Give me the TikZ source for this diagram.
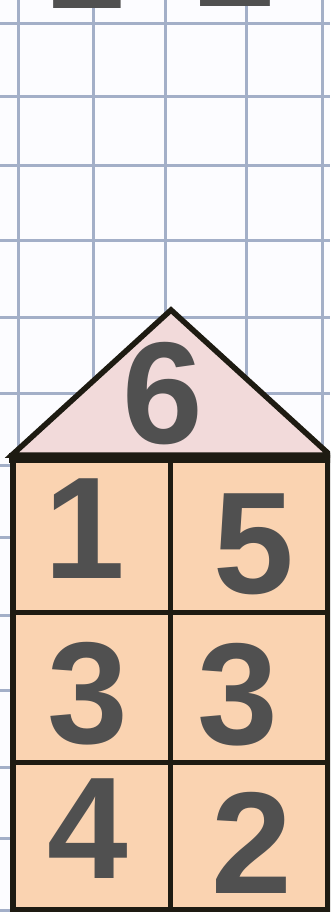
\documentclass[tikz,border=0pt]{standalone}
\usepackage{fontspec}
\setmainfont{Liberation Sans}
\usepackage{tikz}
\definecolor{gridblue}{HTML}{A3AFC8}
\definecolor{roofpink}{HTML}{F2DADA}
\definecolor{wallpeach}{HTML}{FAD3B1}
\definecolor{inkdark}{HTML}{1E1B12}
\definecolor{digitgray}{HTML}{505050}

\begin{document}
\begin{tikzpicture}[x=1pt, y=-1pt,
            digit/.style={anchor=base, inner sep=0pt, text=digitgray, font=\fontsize{145}{145}\selectfont\bfseries},
            gridline/.style={gridblue, line width=3pt}]
            \useasboundingbox (0,0) rectangle (330,912);
            \begin{scope}
            \clip (0,0) rectangle (330,912);
            \fill[white!99!blue] (0,0) rectangle (330,912);
            % squared paper
            \foreach \x in {18,93,165,246,322}
                \draw[gridline] (\x,0) -- (\x,912);
            \foreach \y in {24,97,166,240,317,393,465,537,615,690,767,838,910}
                \draw[gridline] (0,\y) -- (330,\y);
            % digits from the row above, cut off
            \node[digit] (top1) at (85,9) {1};
            \node[digit] (top2) at (236,7) {2};
            % roof
            \draw[inkdark, line width=5.5pt, fill=roofpink] (12,455) -- (171,310) -- (330,455) -- cycle;
            \node[digit] (roof) at (163,443) {6};
            % walls
            \draw[inkdark, line width=6pt, fill=wallpeach] (13,458) rectangle (327.5,910);
            \draw[inkdark, line width=10pt] (9,458) -- (331,458);
            \draw[inkdark, line width=5pt] (170.5,458) -- (170.5,910)
                (13,612) -- (327.5,612) (13,762) -- (327.5,762);
            \node[digit] (a1) at (85,578) {1};
            \node[digit] (b1) at (254,593) {5};
            \node[digit] (a2) at (87.5,743) {3};
            \node[digit] (b2) at (237.5,744) {3};
            \node[digit] (a3) at (87.5,878) {4};
            \node[digit] (b3) at (251.5,893) {2};
            \end{scope}
        \end{tikzpicture}
\end{document}
